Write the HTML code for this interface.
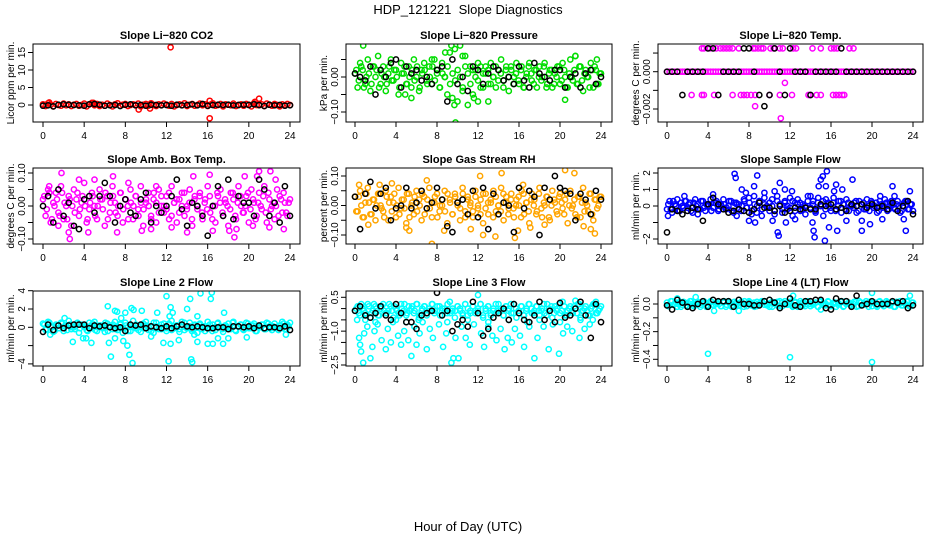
<!DOCTYPE html>
<html><head><meta charset="utf-8"><style>
body{margin:0;background:#fff;}
svg{display:block;font-family:"Liberation Sans",Arial,sans-serif;}
</style></head><body>
<svg id="chart" width="936" height="540" viewBox="0 0 936 540" xmlns="http://www.w3.org/2000/svg">
<rect width="936" height="540" fill="#fff"/>
<text x="468" y="14" text-anchor="middle" font-size="13">HDP_121221&#160; Slope Diagnostics</text>
<text x="468" y="531" text-anchor="middle" font-size="13">Hour of Day (UTC)</text>
</svg>
<script>
const hourTicks=[0,4,8,12,16,20,24];
const co2Col=[0.2,-0.3,0.5,0.1,-0.4,0.3,0.0,-0.2,0.4,-0.1,0.2,-0.3,0.1,0.3,-0.2,0.0,0.4,-0.4,0.2,0.6,-0.1,0.3,-0.3,0.1,-0.2,0.4,0.0,-0.4,0.2,0.5,-0.2,0.1,0.3,-0.3,0.0,0.2,-0.1,0.4,-0.4,0.1,0.3,-0.2,0.5,0.0,-0.3,0.2,-0.1,0.4,0.1,-0.2,0.3,-0.4,0.0,0.2,-0.1,0.5,-0.3,0.1,0.3,-0.2,0.0,0.4,-0.1,0.2,-0.3,0.1,0.5,-0.2,0.0,0.3,-0.4,0.2,0.1,-0.1,0.4,-0.3,0.0,0.2,-0.2,0.3,0.1,-0.4,0.5,0.0,-0.1,0.2,-0.3,0.4,0.1,-0.2,0.3,0.0,-0.4,0.2,-0.1,0.3,0.0];
const co2Out=[[12.4,16.5],[16.2,-3.8],[16.2,1.2],[21,1.8],[9.3,-1.3],[10.4,-1.0],[0.6,0.7],[4.9,0.6],[20.6,0.9]];
const co2Blk=[-0.2,-0.1,-0.4,0.1,0.2,0.1,0.0,-0.1,-0.2,0.2,0.3,0.1,-0.2,-0.1,0.0,-0.3,0.1,0.2,-0.1,0.0,-0.2,0.1,0.0,-0.1,0.0,-0.2,0.1,-0.1,0.0,0.2,-0.1,0.3,-0.2,0.0,0.1,0.0,0.1,-0.1,0.0,0.1,0.0,0.2,0.0,-0.3,0.1,-0.1,0.0,-0.2,-0.1];
const presCol=[0.01,-0.03,0.04,0.02,-0.02,0.05,-0.04,0.03,0.00,0.06,-0.02,0.03,-0.04,0.01,0.05,-0.01,0.02,-0.05,0.04,0.01,-0.02,0.03,-0.03,0.05,0.00,-0.04,0.02,0.04,-0.01,0.03,-0.02,0.05,0.01,-0.03,0.04,0.00,-0.05,0.07,-0.06,0.08,-0.07,0.09,-0.04,0.06,-0.08,0.03,-0.05,0.02,0.04,-0.03,0.01,0.03,-0.02,0.04,0.00,-0.03,0.02,0.05,-0.01,0.03,-0.04,0.02,0.00,0.04,-0.02,0.03,-0.03,0.01,0.04,-0.01,0.02,-0.03,0.03,0.00,0.04,-0.02,0.02,-0.03,0.01,0.03,-0.02,0.04,0.00,-0.03,0.05,-0.01,0.06,-0.02,0.03,-0.04,0.02,0.00,0.04,-0.03,0.02,-0.02,0.01];
const presCol2=[0.02,-0.01,0.03,-0.03,0.00,0.01,-0.02,0.03,0.02,-0.03,0.01,0.00,-0.02,0.03,-0.01,0.02,0.00,-0.03,0.01,0.03,-0.02,0.00,0.02,-0.01,0.03,-0.03,0.01,0.02,-0.02,0.00,0.03,-0.01,0.02,-0.03,0.01,0.00,0.03,-0.02,0.01,-0.01,0.02,0.00,-0.03,0.03,0.01,-0.02,0.02,0.00,-0.01,0.03,-0.03,0.01,0.02,-0.02,0.00,0.03,-0.01,0.01,-0.03,0.02,0.00,0.03,-0.02,0.01,-0.01,0.02,-0.03,0.00,0.03,0.01,-0.02,0.02,0.00,-0.01,0.03,-0.03,0.01,0.02,-0.02,0.00,0.03,-0.01,0.02,-0.03,0.01,0.00,0.02,-0.02,0.03,-0.01,0.01,0.00,-0.03,0.02,0.03,-0.02,0.01];
const presOut=[[0.8,0.09],[9.4,0.09],[9.8,-0.13],[9.7,-0.08],[12,-0.07],[13,-0.07],[5.5,-0.06],[20.5,-0.065],[23.6,0.05],[21.5,0.06],[7.5,0.05],[8.8,0.07],[10.5,0.06],[4.9,-0.05],[11.6,-0.06]];
const presBlk=[0.01,0.0,-0.01,0.03,-0.05,0.02,0.0,0.04,0.05,-0.03,0.03,0.01,0.02,-0.01,0.0,-0.02,0.02,0.03,-0.07,0.05,-0.02,0.0,-0.04,0.03,0.02,-0.02,0.01,0.03,0.02,-0.01,0.0,-0.02,0.03,-0.01,-0.03,0.04,0.01,0.0,-0.01,0.02,0.02,-0.03,0.0,0.01,-0.03,0.01,0.02,-0.02,0.0];
const tempCol=[0,0,0,0,0,0,0,0,0,0,0,0,0,0,0,0,0,0,0,0,0,0,0,0,0,0,0,0,0,0,0,0,0,0,0,0,0,0,0,0,0,0,0,0,0,0,0,0,0,0,0,0,0,0,0,0,0,0,0,0,0,0,0,0,0,0,0,0,0,0,0,0,0,0,0,0,0,0,0,0,0,0,0,0,0,0,0,0,0,0,0,0,0,0,0,0,0];
const tempOut=[[3.4,0.00125],[3.6,0.00125],[4.2,0.00125],[4.8,0.00125],[5.2,0.00125],[5.5,0.00125],[5.8,0.00125],[6.1,0.00125],[6.4,0.00125],[7.0,0.00125],[8.4,0.00125],[8.6,0.00125],[8.9,0.00125],[9.2,0.00125],[9.4,0.00125],[10.1,0.00125],[10.4,0.00125],[11.0,0.00125],[11.3,0.00125],[12.3,0.00125],[12.6,0.00125],[14.2,0.00125],[15.0,0.00125],[16.0,0.00125],[16.3,0.00125],[16.6,0.00125],[17.8,0.00125],[18.2,0.00125],[2.4,-0.00125],[3.4,-0.00125],[3.6,-0.00125],[4.6,-0.00125],[6.4,-0.00125],[7.2,-0.00125],[7.5,-0.00125],[7.8,-0.00125],[8.2,-0.00125],[8.6,-0.00125],[10.0,-0.00125],[11.0,-0.00125],[12.2,-0.00125],[13.8,-0.00125],[14.0,-0.00125],[14.6,-0.00125],[15.0,-0.00125],[16.2,-0.00125],[16.5,-0.00125],[16.8,-0.00125],[17.1,-0.00125],[17.3,-0.00125],[11.5,-0.0006],[8.6,-0.00185],[11.1,-0.0025]];
const tempBlk=[0,0,0,-0.00125,0,0,0,0,0.00125,0.00125,-0.00125,0,0,0,0,0.00125,0.00125,0,-0.00125,-0.00185,-0.00125,0.00125,0,-0.00125,0.00125,0,0,0,-0.00125,0,0,0,0,0,0.00125,0,0,0,0,0,0,0,0,0,0,0,0,0,0];
const ambCol=[0.02,-0.03,0.05,-0.05,0.01,0.04,-0.02,0.06,-0.04,0.00,0.03,-0.06,0.05,0.02,-0.03,0.01,0.07,-0.05,-0.01,0.04,0.00,-0.04,0.05,0.02,-0.06,0.03,-0.02,0.06,0.01,-0.03,0.04,-0.05,0.02,0.00,0.05,-0.04,0.03,-0.01,0.06,-0.06,0.01,0.04,-0.03,0.02,-0.05,0.05,0.00,-0.02,0.03,-0.04,0.06,0.01,-0.05,0.02,0.04,-0.03,0.00,0.05,-0.06,0.03,-0.01,0.04,-0.04,0.02,0.06,-0.02,0.00,-0.05,0.03,0.05,-0.03,0.01,-0.06,0.04,0.02,-0.04,0.06,0.00,-0.02,0.03,-0.05,0.05,0.01,-0.03,0.04,-0.01,0.06,-0.05,0.02,0.00,-0.04,0.05,0.03,-0.02,0.01,-0.03,0.02];
const ambCol2=[0.03,-0.01,0.04,-0.04,0.00,0.02,-0.03,0.04,0.01,-0.04,0.02,0.00,-0.02,0.04,-0.01,0.03,0.00,-0.04,0.01,0.03,-0.03,0.00,0.02,-0.01,0.04,-0.04,0.01,0.03,-0.02,0.00,0.04,-0.01,0.02,-0.04,0.01,0.00,0.03,-0.03,0.01,-0.01,0.02,0.00,-0.04,0.04,0.01,-0.02,0.03,0.00,-0.01,0.04,-0.03,0.01,0.02,-0.02,0.00,0.04,-0.01,0.01,-0.04,0.02,0.00,0.03,-0.02,0.01,-0.01,0.03,-0.04,0.00,0.04,0.01,-0.02,0.02,0.00,-0.01,0.04,-0.03,0.01,0.03,-0.02,0.00,0.04,-0.01,0.02,-0.04,0.01,0.00,0.03,-0.02,0.04,-0.01,0.01,0.00,-0.03,0.02,0.04,-0.02,0.01];
const ambOut=[[0.6,0.06],[1.8,0.1],[2.6,-0.1],[2.5,-0.08],[3.5,0.08],[4.4,-0.08],[5.0,0.08],[6.8,0.09],[7.2,-0.08],[8.3,0.07],[9.6,-0.075],[11.0,0.06],[12.5,-0.065],[14.0,-0.08],[14.6,0.09],[16.2,0.095],[16.5,-0.075],[18.1,-0.075],[18.6,-0.095],[18.8,-0.07],[19.6,0.09],[20.8,0.09],[21.0,0.105],[22.1,0.105],[22.6,0.08],[22.0,-0.065],[23.4,-0.07],[1.5,-0.06],[10.5,-0.07],[20.4,-0.06]];
const ambBlk=[0.0,0.03,-0.05,0.05,-0.03,0.01,-0.06,-0.07,0.02,0.03,-0.02,0.03,0.07,0.03,-0.05,0.0,0.02,-0.02,-0.03,0.02,0.04,-0.05,0.0,-0.02,0.0,0.03,0.08,-0.01,-0.06,0.01,0.0,-0.03,-0.09,0.0,0.06,-0.03,0.08,-0.04,0.03,0.01,0.01,-0.03,0.08,0.05,-0.03,0.01,-0.05,0.06,-0.03];
const rhCol=[0.03,-0.02,0.05,-0.04,0.01,0.06,-0.03,0.02,-0.05,0.04,0.00,-0.02,0.05,-0.05,0.03,0.01,-0.04,0.06,-0.01,0.02,-0.06,0.04,0.00,-0.03,0.05,0.02,-0.05,0.03,-0.01,0.06,-0.04,0.01,0.04,-0.02,0.00,0.05,-0.06,0.02,-0.03,0.04,0.01,-0.05,0.06,-0.02,0.03,0.00,-0.04,0.05,-0.01,0.02,-0.06,0.04,-0.03,0.01,0.05,-0.02,0.00,0.06,-0.05,0.03,-0.01,0.04,-0.04,0.02,0.00,0.05,-0.03,0.01,-0.06,0.04,0.02,-0.02,0.06,-0.04,0.00,0.03,-0.05,0.05,0.01,-0.03,0.04,-0.01,0.02,-0.06,0.05,0.00,-0.03,0.03,-0.04,0.06,0.01,-0.02,0.04,-0.05,0.02,0.00,0.03];
const rhCol2=[-0.02,0.03,0.00,-0.04,0.04,0.01,-0.03,0.02,0.00,0.04,-0.01,-0.04,0.03,0.01,-0.02,0.04,0.00,-0.03,0.02,-0.01,0.04,-0.04,0.01,0.03,-0.02,0.00,0.04,-0.03,0.02,-0.01,0.01,0.03,-0.04,0.00,0.02,-0.02,0.04,0.01,-0.03,0.03,0.00,-0.01,0.04,-0.04,0.02,0.01,-0.02,0.03,0.00,-0.03,0.04,-0.01,0.01,0.02,-0.04,0.03,0.00,-0.02,0.04,0.01,-0.03,0.02,-0.01,0.00,0.03,-0.04,0.04,0.01,-0.02,0.02,0.00,-0.03,0.04,-0.01,0.01,0.03,-0.04,0.00,0.02,-0.02,0.03,0.01,-0.03,0.04,0.00,-0.01,0.02,-0.04,0.03,0.01,-0.02,0.00,0.04,-0.03,0.02,-0.01,0.03];
const rhOut=[[0.4,0.07],[2.4,0.07],[3.6,0.075],[5.0,-0.075],[5.3,-0.085],[7.0,0.085],[7.5,-0.13],[8.7,-0.085],[11.3,-0.08],[12.2,0.1],[12.5,-0.1],[13.7,-0.105],[14.3,0.11],[15.6,-0.11],[15.9,-0.085],[16.4,0.07],[17.1,-0.075],[20.5,0.12],[21.4,0.11],[22.3,-0.07],[23.0,-0.08],[23.4,-0.095],[18.5,-0.065],[1.3,-0.065]];
const rhBlk=[0.03,-0.08,0.04,0.08,-0.01,0.04,0.06,-0.05,-0.01,0.0,0.06,-0.01,0.01,0.05,-0.01,0.01,0.06,0.02,-0.07,-0.09,0.01,0.02,-0.03,0.05,-0.04,0.06,-0.08,0.04,-0.03,0.01,0.0,-0.09,0.06,-0.01,0.05,0.03,-0.1,0.06,0.02,0.10,0.06,0.05,0.04,-0.05,0.04,0.02,-0.03,0.05,0.02];
const flowCol=[-0.2,0.3,-0.4,0.1,0.4,-0.3,0.0,0.3,-0.1,0.2,-0.4,0.4,0.1,-0.2,0.3,-0.3,0.0,0.4,-0.1,0.2,-0.3,0.1,0.4,-0.2,0.0,0.3,-0.4,0.2,0.1,-0.3,0.4,-0.1,0.5,-0.5,0.6,-0.4,0.3,-0.6,0.5,0.0,-0.3,0.4,-0.5,0.6,0.1,-0.4,0.3,-0.2,0.5,-0.6,0.2,0.4,-0.3,0.1,-0.5,0.6,-0.1,0.3,-0.4,0.5,0.0,-0.6,0.4,0.2,-0.3,0.5,-0.2,0.3,-0.4,0.1,0.4,-0.3,0.0,0.2,-0.4,0.3,0.1,-0.2,0.4,-0.3,0.2,0.0,-0.4,0.3,-0.1,0.4,-0.3,0.2,0.1,-0.2,0.3,-0.4,0.0,0.3,-0.2,0.1,-0.3];
const flowCol2=[0.1,-0.2,0.3,0.0,-0.3,0.2,-0.1,0.3,0.1,-0.3,0.2,0.0,-0.2,0.3,-0.1,0.1,0.0,-0.3,0.2,0.3,-0.2,0.0,0.1,-0.1,0.3,-0.3,0.2,0.1,-0.2,0.0,0.3,-0.1,0.2,-0.3,0.1,0.0,0.3,-0.2,0.1,-0.1,0.2,0.0,-0.3,0.3,0.1,-0.2,0.2,0.0,-0.1,0.3,-0.3,0.1,0.2,-0.2,0.0,0.3,-0.1,0.1,-0.3,0.2,0.0,0.3,-0.2,0.1,-0.1,0.2,-0.3,0.0,0.3,0.1,-0.2,0.2,0.0,-0.1,0.3,-0.3,0.1,0.2,-0.2,0.0,0.3,-0.1,0.2,-0.3,0.1,0.0,0.2,-0.2,0.3,-0.1,0.1,0.0,-0.3,0.2,0.3,-0.2,0.1];
const flowOut=[[0.1,-0.6],[1.7,0.6],[4.5,0.7],[6.6,1.95],[6.7,1.7],[6.8,-0.6],[7.3,1.0],[7.7,0.8],[8.0,-0.9],[8.5,1.2],[8.6,-1.0],[8.8,1.85],[9.5,0.8],[10.3,-0.9],[10.5,0.9],[10.8,-1.6],[10.9,-1.8],[11.0,1.4],[11.5,1.0],[11.6,-1.0],[12.2,0.9],[12.5,-0.8],[14.0,0.6],[14.2,-1.0],[14.3,-1.5],[14.4,-1.9],[14.8,1.2],[15.0,1.6],[15.2,1.8],[15.4,-2.1],[15.6,2.1],[15.5,1.2],[15.8,-1.3],[16.3,0.9],[16.5,1.3],[16.6,-1.5],[17.1,1.0],[17.5,-0.9],[18.1,1.6],[19.0,-0.9],[19.0,-1.5],[19.8,-1.1],[20.8,0.6],[21.0,-0.8],[22.0,1.2],[23.1,-0.8],[23.3,-1.5],[23.7,0.9],[22.2,0.6],[3.0,-0.5]];
const flowBlk=[-1.6,-0.2,-0.3,-0.5,-0.3,-0.1,-0.2,-0.9,0.1,0.5,0.1,-0.2,-0.4,-0.3,-0.2,-0.3,-0.4,-0.2,0.2,-0.1,-0.1,-0.3,0.0,-0.4,-0.3,-0.1,-0.2,-0.1,-0.2,-0.2,0.1,0.0,0.1,-0.2,-0.1,-0.3,0.1,0.0,0.1,-0.1,0.1,-0.1,0.0,-0.2,0.2,-0.3,0.0,0.3,-0.5];
const line2Col=[0.4,-0.3,0.6,0.1,-0.5,0.3,-0.1,0.5,-0.4,0.2,0.7,-0.2,0.0,0.4,-0.6,0.3,0.1,-0.3,0.5,-0.1,0.6,-0.4,0.2,0.0,-0.5,0.4,0.1,-0.2,0.6,-0.3,0.3,-0.6,0.5,0.0,-0.4,0.7,-0.1,0.2,-0.5,0.4,0.6,-0.3,0.1,-0.6,0.5,0.0,-0.2,0.4,-0.4,0.3,0.7,-0.1,0.2,-0.5,0.6,-0.3,0.0,0.5,-0.2,0.3,-0.6,0.4,0.1,-0.4,0.6,-0.1,0.3,-0.3,0.5,0.0,-0.5,0.2,0.4,-0.2,0.6,-0.4,0.1,0.3,-0.3,0.5,-0.1,0.2,0.4,-0.4,0.0,0.3,-0.2,0.5,0.1,-0.3,0.4,-0.1,0.2,0.6,-0.2,0.3,0.5];
const line2Col2=[0.3,-0.2,0.5,0.0,-0.4,0.2,-0.1,0.4,0.1,-0.3,0.3,0.0,-0.2,0.5,-0.1,0.2,0.0,-0.4,0.1,0.4,-0.3,0.0,0.2,-0.1,0.5,-0.4,0.1,0.3,-0.2,0.0,0.4,-0.1,0.2,-0.4,0.1,0.0,0.3,-0.3,0.1,-0.1,0.2,0.0,-0.4,0.5,0.1,-0.2,0.3,0.0,-0.1,0.4,-0.3,0.1,0.2,-0.2,0.0,0.5,-0.1,0.1,-0.4,0.2,0.0,0.3,-0.2,0.1,-0.1,0.3,-0.4,0.0,0.4,0.1,-0.2,0.2,0.0,-0.1,0.5,-0.3,0.1,0.3,-0.2,0.0,0.4,-0.1,0.2,-0.4,0.1,0.0,0.3,-0.2,0.4,-0.1,0.1,0.0,-0.3,0.2,0.4,-0.2,0.1];
const line2Out=[[2.9,-1.6],[3.9,-1.2],[4.2,-1.2],[4.7,-1.7],[6.3,2.3],[6.4,-1.7],[6.6,-3.2],[7.0,1.8],[7.2,1.7],[7.0,-1.2],[7.6,1.0],[7.8,-1.5],[8.0,1.6],[8.2,-2.0],[8.4,-3.0],[8.6,2.1],[8.7,-3.9],[8.8,1.9],[9.6,1.8],[10.5,-1.0],[11.1,1.6],[11.7,-1.7],[12.0,3.4],[12.2,-3.7],[12.3,1.2],[12.4,2.2],[12.6,1.6],[12.4,-1.8],[13.2,-1.4],[14.0,2.0],[14.3,3.1],[14.4,-3.5],[14.5,-3.8],[14.7,-0.8],[15.0,1.2],[15.0,-1.6],[15.3,3.7],[16.0,-1.8],[16.3,3.1],[16.4,3.8],[16.5,-1.8],[17.0,-1.2],[17.5,-1.8],[17.6,1.6],[18.0,-1.2],[19.8,-1.1],[23.6,-0.8],[0.7,-0.8],[2.1,1.0]];
const line2Blk=[-0.5,0.3,-0.3,0.2,-0.1,0.2,0.3,0.3,0.3,-0.1,0.2,0.1,0.2,0.0,-0.1,0.0,-0.4,0.3,0.2,0.3,-0.1,0.1,0.0,-0.1,0.1,-0.1,0.1,0.3,0.1,0.0,0.1,0.0,-0.1,-0.1,0.0,0.0,-0.2,0.1,0.1,0.0,0.1,-0.1,0.2,-0.1,0.0,0.0,-0.1,0.1,-0.3];
const line3Col=[-0.1,0.1,-0.3,0.0,-0.2,0.2,-0.4,-0.1,0.1,-0.3,0.0,0.2,-0.2,-0.1,0.1,-0.4,0.0,-0.2,0.2,-0.1,-0.3,0.1,0.0,-0.2,0.2,-0.4,-0.1,0.1,-0.3,0.0,0.2,-0.2,-0.1,0.1,-0.3,0.0,-0.2,0.3,-0.1,-0.4,0.1,0.0,-0.2,0.2,-0.3,-0.1,0.1,-0.2,0.0,0.2,-0.4,-0.1,0.1,-0.3,0.0,-0.2,0.2,-0.1,-0.3,0.1,0.0,-0.2,0.2,-0.4,-0.1,0.1,-0.3,0.0,0.2,-0.2,-0.1,0.1,-0.3,0.0,-0.2,0.2,-0.1,-0.4,0.1,0.0,-0.2,0.3,-0.3,-0.1,0.1,-0.2,0.0,0.2,-0.4,-0.1,0.1,-0.3,0.0,0.2,-0.2,-0.1,0.1];
const line3Col2=[0.0,-0.2,0.2,-0.1,-0.3,0.1,-0.2,0.2,0.0,-0.3,0.1,-0.1,-0.2,0.2,-0.1,0.1,-0.1,-0.3,0.0,0.2,-0.2,-0.1,0.1,-0.1,0.2,-0.3,0.0,0.1,-0.2,-0.1,0.2,-0.1,0.1,-0.3,0.0,-0.1,0.2,-0.2,0.0,-0.1,0.1,-0.1,-0.3,0.2,0.0,-0.2,0.1,-0.1,-0.1,0.2,-0.3,0.0,0.1,-0.2,-0.1,0.2,-0.1,0.0,-0.3,0.1,-0.1,0.2,-0.2,0.0,-0.1,0.1,-0.3,-0.1,0.2,0.0,-0.2,0.1,-0.1,-0.1,0.2,-0.3,0.0,0.1,-0.2,-0.1,0.2,-0.1,0.1,-0.3,0.0,-0.1,0.1,-0.2,0.2,-0.1,0.0,-0.1,-0.3,0.1,0.2,-0.2,0.0];
const line3Out=[[0.2,-0.5],[0.4,-1.3],[0.5,-1.6],[0.6,-1.9],[0.8,-2.4],[0.9,-1.1],[1.2,-0.8],[1.5,-2.2],[1.7,-1.7],[1.9,-1.0],[2.2,-0.7],[2.6,-1.4],[3.0,-1.8],[3.2,-0.9],[3.5,-1.5],[3.7,-0.6],[4.2,-1.2],[4.5,-1.6],[4.8,-1.0],[5.2,-1.4],[5.5,-2.1],[5.8,-0.8],[6.0,-1.6],[6.3,-1.1],[6.6,-0.6],[7.0,-1.8],[7.3,-0.9],[7.6,-1.3],[8.2,-0.7],[8.6,-1.7],[8.9,-1.1],[9.4,-2.4],[9.6,-2.2],[9.8,-1.3],[10.1,-2.2],[10.4,-0.8],[10.8,-1.3],[11.2,-1.6],[11.6,-0.7],[12.0,0.6],[12.3,-1.1],[12.6,-1.7],[13.0,-0.8],[13.4,-1.2],[13.8,-1.4],[14.2,-0.9],[14.6,-1.8],[14.9,-1.3],[15.3,-1.5],[15.6,-0.9],[16.1,-1.2],[16.5,-1.7],[17.0,-0.8],[17.5,-2.2],[17.8,-1.3],[18.4,-0.8],[18.9,-1.8],[19.3,-0.7],[19.9,-2.0],[20.3,-1.1],[20.7,-0.8],[21.2,-1.0],[21.5,0.35],[21.9,-1.3],[22.4,-0.9],[22.9,-0.7],[23.5,0.3],[23.2,-0.5],[1.0,-0.5],[2.0,-0.6],[4.0,-0.5],[5.0,-0.6],[6.2,-0.5],[9.0,-0.6],[11.0,-0.5],[13.0,-0.6],[15.0,-0.5],[16.8,-0.6],[18.0,-0.5],[20.0,-0.6],[22.0,-0.5]];
const line3Blk=[-0.1,0.1,-0.3,-0.4,-0.2,0.1,-0.3,-0.5,0.2,-0.2,-0.6,-0.6,-0.9,-0.3,-0.2,-0.1,0.7,-0.3,-0.1,-1.0,-0.7,-0.5,-0.8,0.3,-0.2,-1.2,-0.9,-0.4,-0.2,0.0,-0.5,0.2,-0.2,-0.5,-0.6,-0.3,0.3,-0.5,-0.1,-0.6,0.25,-0.4,-0.3,0.0,0.3,-0.3,-1.3,0.2,-0.6];
const line4Col=[0.01,-0.01,0.02,0.00,-0.02,0.015,-0.005,0.01,-0.015,0.02,0.00,-0.01,0.015,-0.02,0.005,0.01,-0.01,0.02,-0.005,0.00,0.015,-0.015,0.01,-0.02,0.02,0.005,-0.01,0.01,-0.005,0.015,-0.02,0.00,0.02,-0.01,0.01,-0.015,0.005,0.02,-0.005,0.00,-0.02,0.015,0.01,-0.01,0.02,-0.015,0.005,0.00,0.015,-0.02,0.01,-0.005,0.02,-0.01,0.00,0.015,-0.015,0.005,0.01,-0.02,0.02,-0.005,0.00,0.015,-0.01,0.01,-0.02,0.005,0.02,-0.015,0.00,0.01,-0.005,0.015,-0.02,0.02,-0.01,0.005,0.00,0.015,-0.015,0.01,-0.02,0.02,-0.005,0.00,0.01,-0.01,0.015,-0.02,0.005,0.02,-0.01,0.00,0.015,-0.015,0.01];
const line4Col2=[-0.015,0.02,-0.005,0.01,0.00,-0.02,0.015,-0.01,0.005,0.02,-0.015,0.00,0.01,-0.005,0.02,-0.02,0.005,0.015,-0.01,0.01,0.00,-0.015,0.02,-0.005,0.01,-0.02,0.015,0.00,-0.01,0.005,0.02,-0.015,0.01,0.00,-0.02,0.015,-0.005,0.01,0.02,-0.01,0.005,-0.02,0.00,0.015,-0.015,0.01,0.02,-0.005,0.00,-0.01,0.015,-0.02,0.005,0.01,-0.015,0.02,0.00,-0.005,0.01,-0.02,0.015,0.005,-0.01,0.02,-0.015,0.00,0.01,-0.005,0.015,-0.02,0.02,0.005,-0.01,0.00,0.015,-0.015,0.01,-0.005,0.02,-0.02,0.005,0.01,-0.01,0.015,0.00,-0.015,0.02,-0.005,0.01,-0.02,0.015,0.00,-0.01,0.005,0.02,-0.015,0.01];
const line4Out=[[4.0,-0.36],[12.0,-0.385],[20.0,-0.42],[20.0,0.08],[23.7,0.06],[2.8,0.05],[7.0,-0.05],[4.6,-0.05],[15.0,-0.04],[1.0,0.04],[12.3,0.06]];
const line4Blk=[-0.01,-0.04,0.03,0.01,-0.02,-0.03,0.0,0.02,-0.02,0.03,0.02,0.02,0.02,-0.02,0.03,0.0,0.0,-0.01,-0.01,0.02,0.03,0.01,-0.03,0.0,0.04,-0.01,-0.02,0.02,0.02,0.03,0.03,-0.03,-0.04,0.04,0.02,0.02,-0.02,0.06,-0.01,0.0,0.02,0.0,0.0,0.0,0.02,0.01,0.02,-0.03,-0.01];

const M='\u2212';
const panels=[
 {id:'co2',title:'Slope Li\u2212820 CO2',ylab:'Licor ppm per min.',col:'#ff0000',c:co2Col,c2:[],o:co2Out,b:co2Blk,L:33,R:300,T:44,B:122,x0:43,x1:290,v1:0,p1:105,v2:10,p2:70,yt:[0,5,10,15],yl:['0','5','10','15']},
 {id:'pressure',title:'Slope Li\u2212820 Pressure',ylab:'kPa per min.',col:'#00dd00',c:presCol,c2:presCol2,o:presOut,b:presBlk,L:346,R:612,T:44,B:122,x0:355,x1:601,v1:0,p1:77,v2:-0.1,p2:112,yt:[-0.1,-0.05,0,0.05],yl:[M+'0.10','','0.00','']},
 {id:'temp',title:'Slope Li\u2212820 Temp.',ylab:'degrees C per min.',col:'#ff00ff',c:tempCol,c2:[],o:tempOut,b:tempBlk,L:658,R:923,T:44,B:122,x0:667,x1:913,v1:0,p1:71.7,v2:-0.002,p2:109,yt:[-0.002,-0.001,0,0.001],yl:[M+'0.002','','0.000','']},
 {id:'amb-box-temp',title:'Slope Amb. Box Temp.',ylab:'degrees C per min.',col:'#ff00ff',c:ambCol,c2:ambCol2,o:ambOut,b:ambBlk,L:33,R:300,T:168,B:244,x0:43,x1:290,v1:0,p1:206,v2:0.1,p2:173,yt:[-0.1,-0.05,0,0.05,0.1],yl:[M+'0.10','','0.00','','0.10']},
 {id:'gas-stream-rh',title:'Slope Gas Stream RH',ylab:'percent per min.',col:'#ffa500',c:rhCol,c2:rhCol2,o:rhOut,b:rhBlk,L:346,R:612,T:168,B:244,x0:355,x1:601,v1:0,p1:205.5,v2:0.1,p2:176,yt:[-0.1,-0.05,0,0.05,0.1],yl:[M+'0.10','','0.00','','0.10']},
 {id:'sample-flow',title:'Slope Sample Flow',ylab:'ml/min per min.',col:'#0000ff',c:flowCol,c2:flowCol2,o:flowOut,b:flowBlk,L:658,R:923,T:168,B:244,x0:667,x1:913,v1:0,p1:206,v2:2,p2:173,yt:[-2,-1,0,1,2],yl:[M+'2','','0','1','2']},
 {id:'line2-flow',title:'Slope Line 2 Flow',ylab:'ml/min per min.',col:'#00ffff',c:line2Col,c2:line2Col2,o:line2Out,b:line2Blk,L:33,R:300,T:291,B:366,x0:43,x1:290,v1:0,p1:327.3,v2:4,p2:290.7,yt:[-4,-2,0,2,4],yl:[M+'4','','0','2','4']},
 {id:'line3-flow',title:'Slope Line 3 Flow',ylab:'ml/min per min.',col:'#00ffff',c:line3Col,c2:line3Col2,o:line3Out,b:line3Blk,L:346,R:612,T:291,B:366,x0:355,x1:601,v1:0.5,p1:297.3,v2:-2.5,p2:365,yt:[-2.5,-2,-1.5,-1,-0.5,0,0.5],yl:[M+'2.5','','',M+'1.0','','','0.5']},
 {id:'line4-flow',title:'Slope Line 4 (LT) Flow',ylab:'ml/min per min.',col:'#00ffff',c:line4Col,c2:line4Col2,o:line4Out,b:line4Blk,L:658,R:923,T:291,B:366,x0:667,x1:913,v1:0,p1:304,v2:-0.4,p2:359.3,yt:[-0.4,-0.3,-0.2,-0.1,0],yl:[M+'0.4','',M+'0.2','','0.0']}
];
const svg=document.getElementById('chart');
const NS='http://www.w3.org/2000/svg';
function mk(tag,attrs,parent){const e=document.createElementNS(NS,tag);for(const k in attrs)e.setAttribute(k,attrs[k]);parent.appendChild(e);return e;}
const defs=mk('defs',{},svg);
panels.forEach(p=>{
  const xs=h=>p.x0+(h/24)*(p.x1-p.x0);
  const ys=v=>p.p1+(v-p.v1)*(p.p2-p.p1)/(p.v2-p.v1);
  const g=mk('g',{},svg);
  
  
  const cp=mk('clipPath',{id:'clip-'+p.id},defs);
  mk('rect',{x:p.L,y:p.T,width:p.R-p.L,height:p.B-p.T},cp);
  const t=mk('text',{x:(p.L+p.R)/2,y:p.T-5,'text-anchor':'middle','font-size':'11','font-weight':'bold'},g);
  t.textContent=p.title;
  
  
  const yl=mk('text',{transform:`translate(${p.L-19},${(p.T+p.B)/2}) rotate(-90)`,'text-anchor':'middle','font-size':'10'},g);
  yl.textContent=p.ylab;
  
  
  const pts=mk('g',{'clip-path':`url(#clip-${p.id})`,fill:'none','stroke-width':'1.5'},g);
  
  
  const dot=(h,v,col,name)=>{const c=mk('circle',{cx:xs(h).toFixed(1),cy:ys(v).toFixed(1),r:2.6,stroke:col},pts);
    
    };
  p.c.forEach((v,i)=>dot(i*24/(p.c.length-1),v,p.col,'point'));
  p.c2.forEach((v,i)=>dot((i+0.5)*24/p.c2.length,v,p.col,'point'));
  p.o.forEach(d=>dot(d[0],d[1],p.col,'outlier-point'));
  p.b.forEach((v,i)=>dot(i*24/(p.b.length-1),v,'#000','hourly-point'));
  const box=mk('rect',{x:p.L,y:p.T,width:p.R-p.L,height:p.B-p.T,fill:'none',stroke:'#000','stroke-width':'1'},g);
  
  
  const xa=mk('g',{},g);
  
  
  hourTicks.forEach(h=>{
    mk('line',{x1:xs(h),x2:xs(h),y1:p.B,y2:p.B+5,stroke:'#000'},xa);
    const tx=mk('text',{x:xs(h),y:p.B+17,'text-anchor':'middle','font-size':'10'},xa);
    tx.textContent=String(h);
  });
  const ya=mk('g',{},g);
  
  
  p.yt.forEach((v,i)=>{
    mk('line',{x1:p.L-5,x2:p.L,y1:ys(v),y2:ys(v),stroke:'#000'},ya);
    if(p.yl[i]){const tx=mk('text',{transform:`translate(${p.L-8},${ys(v)}) rotate(-90)`,'text-anchor':'middle','font-size':'10'},ya);tx.textContent=p.yl[i];}
  });
});
</script>
</body></html>
